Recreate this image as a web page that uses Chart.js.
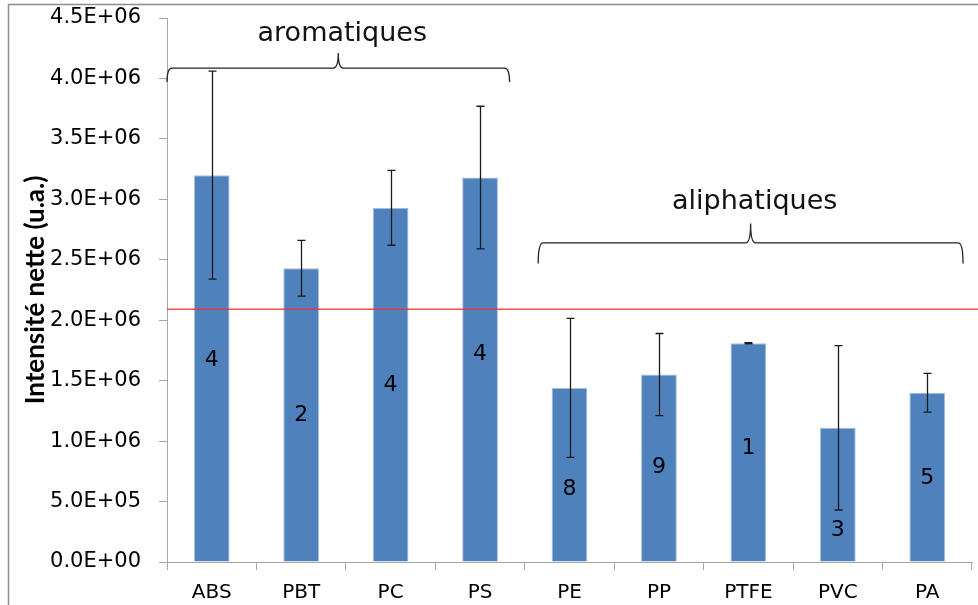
<!DOCTYPE html>
<html>
<head>
<meta charset="utf-8">
<script src="https://cdn.jsdelivr.net/npm/chart.js@4/dist/chart.umd.min.js"></script>
<style>
  html, body { margin: 0; padding: 0; background: #ffffff; }
  #wrap { width: 978px; height: 605px; position: relative; }
</style>
</head>
<body>
<div id="wrap"><canvas id="c" width="978" height="605"></canvas></div>
<script>
// ---- data ----
const categories = ['ABS', 'PBT', 'PC', 'PS', 'PE', 'PP', 'PTFE', 'PVC', 'PA'];
const intensity  = [3.20e6, 2.43e6, 2.93e6, 3.18e6, 1.44e6, 1.55e6, 1.81e6, 1.11e6, 1.40e6];
const errors     = [0.86e6, 0.23e6, 0.31e6, 0.59e6, 0.575e6, 0.34e6, 0.005e6, 0.68e6, 0.16e6];
const counts     = ['4', '2', '4', '4', '8', '9', '1', '3', '5'];
const countY     = [1.67e6, 1.21e6, 1.46e6, 1.72e6, 0.60e6, 0.78e6, 0.94e6, 0.26e6, 0.69e6];
const yTickLabels = ['0.0E+00', '5.0E+05', '1.0E+06', '1.5E+06', '2.0E+06', '2.5E+06', '3.0E+06', '3.5E+06', '4.0E+06', '4.5E+06'];
const thresholdValue = 2.09e6;
const yAxisTitle = 'Intensité nette (u.a.)';
// groups: label, category span (fractional index), brace levels (data units)
const groupLabels = ['aromatiques', 'aliphatiques'];
const groupXStart = [-0.5, 3.65];
const groupXEnd   = [3.33, 8.40];
const groupYLine  = [4.086e6, 2.64e6];
const groupYEnd   = [3.97e6, 2.47e6];
const groupYTip   = [4.21e6, 2.80e6];
const groupYText  = [4.37e6, 2.98e6];

const overlay = {
  id: 'overlay',
  beforeDraw(chart) {
    const ctx = chart.ctx;
    ctx.save();
    ctx.strokeStyle = '#8c8c8c';
    ctx.lineWidth = 1.5;
    ctx.beginPath();
    ctx.moveTo(8.5, 605); ctx.lineTo(8.5, 4.5); ctx.lineTo(978, 4.5);
    ctx.stroke();
    ctx.restore();
  },
  afterDatasetsDraw(chart) {
    const ctx = chart.ctx;
    const xs = chart.scales.x, ys = chart.scales.y;
    const area = chart.chartArea;
    ctx.save();
    // error bars
    ctx.strokeStyle = '#1a1a1a';
    ctx.lineWidth = 1.3;
    const meta = chart.getDatasetMeta(0);
    intensity.forEach((v, i) => {
      const x = Math.round(meta.data[i].x) + 0.5;
      const yTop = ys.getPixelForValue(v + errors[i]);
      const yBot = ys.getPixelForValue(v - errors[i]);
      ctx.beginPath();
      ctx.moveTo(x, yTop); ctx.lineTo(x, yBot);
      ctx.moveTo(x - 4, yTop); ctx.lineTo(x + 4, yTop);
      ctx.moveTo(x - 4, yBot); ctx.lineTo(x + 4, yBot);
      ctx.stroke();
    });
    // threshold line
    const yT = ys.getPixelForValue(thresholdValue);
    ctx.strokeStyle = 'rgba(240,50,50,0.85)';
    ctx.lineWidth = 1.5;
    ctx.beginPath();
    ctx.moveTo(area.left, yT); ctx.lineTo(978, yT);
    ctx.stroke();
    // counts inside bars
    ctx.fillStyle = '#000000';
    ctx.font = '22px "DejaVu Sans"';
    ctx.textAlign = 'center';
    ctx.textBaseline = 'middle';
    counts.forEach((t, i) => {
      ctx.fillText(t, meta.data[i].x, ys.getPixelForValue(countY[i]));
    });
    // braces
    ctx.strokeStyle = '#222222';
    ctx.lineWidth = 1.3;
    const step = xs.getPixelForValue(1) - xs.getPixelForValue(0);
    groupLabels.forEach((lab, g) => {
      const x1 = xs.getPixelForValue(0) + groupXStart[g] * step;
      const x2 = xs.getPixelForValue(0) + groupXEnd[g] * step;
      const xm = (x1 + x2) / 2;
      const yl = ys.getPixelForValue(groupYLine[g]);
      const ye = ys.getPixelForValue(groupYEnd[g]);
      const yt = ys.getPixelForValue(groupYTip[g]);
      const r = 5;
      ctx.beginPath();
      ctx.moveTo(x1, ye);
      ctx.quadraticCurveTo(x1, yl, x1 + r, yl);
      ctx.lineTo(xm - r, yl);
      ctx.quadraticCurveTo(xm, yl, xm, yt);
      ctx.quadraticCurveTo(xm, yl, xm + r, yl);
      ctx.lineTo(x2 - r, yl);
      ctx.quadraticCurveTo(x2, yl, x2, ye);
      ctx.stroke();
      ctx.fillStyle = '#111111';
      ctx.font = '27px "DejaVu Sans"';
      ctx.fillText(lab, xm + 4, ys.getPixelForValue(groupYText[g]));
    });
    ctx.restore();
  }
};

new Chart(document.getElementById('c'), {
  type: 'bar',
  data: {
    labels: categories,
    datasets: [{
      data: intensity,
      backgroundColor: '#4F81BD',
      borderColor: '#A9C0DF',
      borderWidth: 1,
      barPercentage: 0.4,
      categoryPercentage: 1.0
    }]
  },
  options: {
    responsive: false,
    devicePixelRatio: 1,
    animation: false,
    layout: { padding: { top: 18, right: 6, left: 0, bottom: 0 } },
    plugins: { legend: { display: false }, tooltip: { enabled: false }, title: { display: false } },
    scales: {
      x: {
        grid: { display: true, drawOnChartArea: false, drawTicks: true, tickLength: 8, color: '#a6a6a6', offset: true },
        border: { display: true, color: '#a6a6a6', width: 1 },
        ticks: { color: '#000000', font: { family: 'DejaVu Sans', size: 20 }, padding: 11, maxRotation: 0 },
        afterFit(s) { s.height = 43; s.paddingLeft = 0; s.paddingRight = 0; }
      },
      y: {
        min: 0, max: 4.5e6,
        ticks: {
          stepSize: 5e5,
          color: '#000000',
          font: { family: 'DejaVu Sans', size: 21 },
          padding: 18,
          callback: (v, i) => yTickLabels[i]
        },
        grid: { display: true, drawOnChartArea: false, drawTicks: true, tickLength: 8, color: '#a6a6a6' },
        border: { display: true, color: '#a6a6a6', width: 1 },
        title: { display: true, text: yAxisTitle, color: '#000000', font: { family: 'Lato', size: 26, weight: 'bold' }, padding: { top: 20, bottom: 0 } },
        afterFit(s) { s.width = 167; s.paddingTop = 0; s.paddingBottom = 0; }
      }
    }
  },
  plugins: [overlay]
});
</script>
</body>
</html>
